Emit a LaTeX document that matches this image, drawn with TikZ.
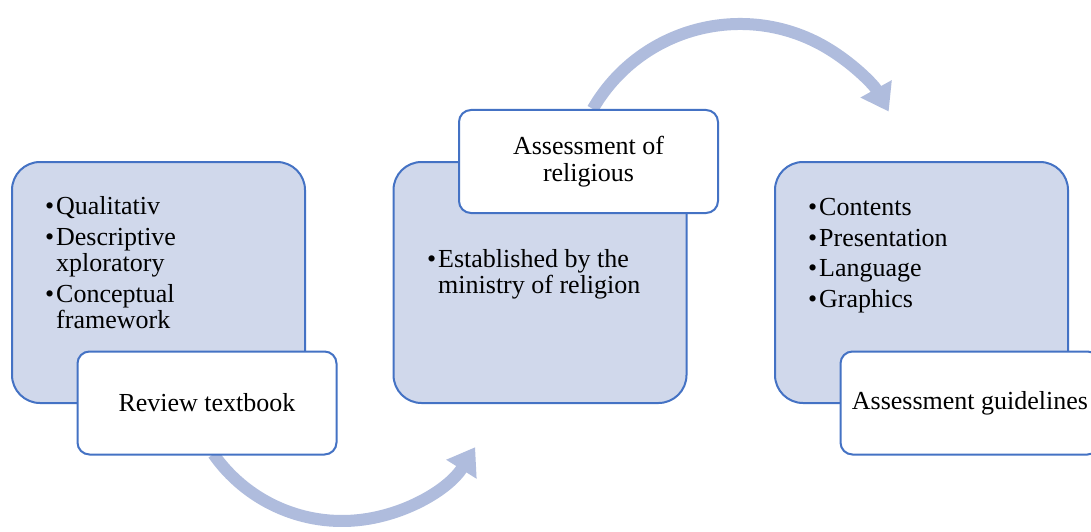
\documentclass[tikz,border=0pt]{standalone}
\usepackage{fontspec}
\setmainfont{Liberation Serif}
\usetikzlibrary{arrows.meta,calc}
\definecolor{bord}{HTML}{4472C4}
\definecolor{fillb}{HTML}{D0D8EB}
\definecolor{arrc}{HTML}{AFBCDD}
\newcommand{\bul}{\makebox[11pt][l]{\textbullet}}
\begin{document}
\begin{tikzpicture}[x=1pt,y=-1pt,
  bigbox/.style={draw=bord, fill=fillb, line width=2pt, rounded corners=28pt,
    minimum width=293pt, minimum height=241pt, inner sep=0pt},
  labbox/.style={draw=bord, fill=white, line width=2pt, rounded corners=12pt,
    minimum width=259pt, minimum height=103pt, inner sep=0pt, align=center,
    font=\fontsize{26}{27}\selectfont},
  txt/.style={anchor=base west, inner sep=0pt, font=\fontsize{26}{27}\selectfont},
  flow/.style={draw=arrc, line width=12pt, -{Triangle[length=26pt,width=34pt]}}
]
\useasboundingbox (0,0) rectangle (1091,532);
\fill[white] (0,0) rectangle (1091,532);

% circular arrows
\coordinate (c1) at (342,364);
\coordinate (c2) at (740,194);
\draw[flow] ($(c1)+(145:157)$) arc[start angle=145, end angle=32, radius=157];
\draw[flow] ($(c2)+(-150:170)$) arc[start angle=-150, end angle=-29, radius=170];

% boxes
\node[bigbox] (b1) at (158.5,282.5) {};
\node[bigbox] (b2) at (540,282.5) {};
\node[bigbox] (b3) at (921.5,282.5) {};

\node[labbox] (l1) at (207,403) {Review textbook};
\node[labbox] (l2) at (588.5,161.5) {Assessment of\\religious};
\node[labbox] (l3) at (970,403) {Assessment guidelines};

% bullets box 1
\node[txt] (t11) at (45,214) {\bul Qualitativ};
\node[txt] (t12) at (45,245) {\bul Descriptive};
\node[txt] (t13) at (56,271) {xploratory};
\node[txt] (t14) at (45,302) {\bul Conceptual};
\node[txt] (t15) at (56,328) {framework};

% bullets box 2
\node[txt] (t21) at (427,267) {\bul Established by the};
\node[txt] (t22) at (438,293) {ministry of religion};

% bullets box 3
\node[txt] (t31) at (808,215) {\bul Contents};
\node[txt] (t32) at (808,246) {\bul Presentation};
\node[txt] (t33) at (808,276) {\bul Language};
\node[txt] (t34) at (808,307) {\bul Graphics};
\end{tikzpicture}
\end{document}
